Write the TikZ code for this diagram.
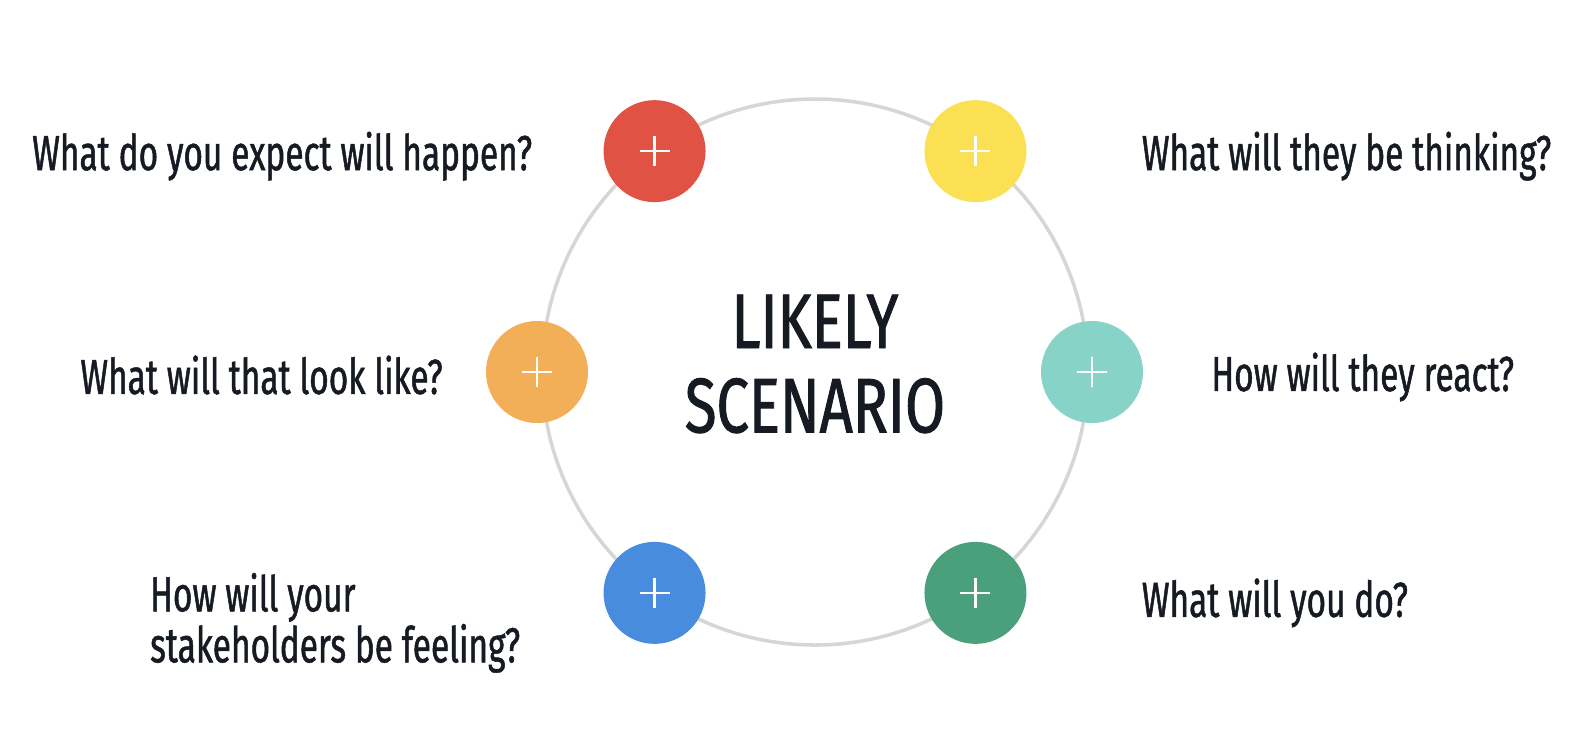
\documentclass[tikz,border=0pt]{standalone}
\usepackage{fontspec}
\usepackage{tikz}
\usepackage{xcolor}
\usetikzlibrary{positioning, calc}
\newfontfamily\condfont[FakeStretch=0.68, FakeBold=1]{Fira Sans}
\newfontfamily\titlefont[FakeStretch=0.75, FakeBold=1.2]{Fira Sans}
\definecolor{ink}{HTML}{161A22}
\definecolor{ringgray}{HTML}{D6D6D6}
\definecolor{dotred}{HTML}{E05244}
\definecolor{dotyellow}{HTML}{FAE052}
\definecolor{dotorange}{HTML}{F2AF58}
\definecolor{dotteal}{HTML}{88D3C8}
\definecolor{dotblue}{HTML}{478CDD}
\definecolor{dotgreen}{HTML}{4AA07A}

\begin{document}
\begin{tikzpicture}[
      dot/.style={circle, minimum size=1.02cm, inner sep=0pt,
                  path picture={\draw[white, line width=0.6pt]
                    ([xshift=-0.15cm]path picture bounding box.center) -- ([xshift=0.15cm]path picture bounding box.center)
                    ([yshift=-0.15cm]path picture bounding box.center) -- ([yshift=0.15cm]path picture bounding box.center);}},
      question/.style={font=\condfont\fontsize{14}{14.5}\selectfont, text=ink,
                       inner sep=0pt, align=left},
      title/.style={font=\titlefont\fontsize{22}{24}\selectfont, text=ink,
                    align=center, inner sep=0pt}
    ]
    \useasboundingbox (0,0) rectangle (15.94,7.32);

    % Ring and title
    \coordinate (hub) at (8.15,3.60);
    \draw[ringgray, line width=1pt] (hub) circle (2.73cm);
    \node[title, yshift=0.08cm] (scenario) at (hub) {LIKELY\\SCENARIO};

    % Coloured dots
    \node[dot, fill=dotred] (red) at ($(hub)+(126:2.73)$) {};
    \node[dot, fill=dotyellow] (yellow) at ($(hub)+(54:2.73)$) {};
    \node[dot, fill=dotorange] (orange) at ($(hub)+(180:2.78)$) {};
    \node[dot, fill=dotteal] (teal) at ($(hub)+(0:2.77)$) {};
    \node[dot, fill=dotblue] (blue) at ($(hub)+(234:2.73)$) {};
    \node[dot, fill=dotgreen] (green) at ($(hub)+(-54:2.73)$) {};

    % Questions
    \node[question, left=0.7cm of red, yshift=-0.05cm] (expect) {What do you expect will happen?};
    \node[question, right=1.14cm of yellow, yshift=-0.05cm] (thinking) {What will they be thinking?};
    \node[question, left=0.42cm of orange, yshift=-0.03cm] (look) {What will that look like?};
    \node[question, right=0.67cm of teal, yshift=-0.05cm] (react) {How will they react?};
    \node[question, left=0.82cm of blue, yshift=-0.3cm] (feeling) {How will your\\stakeholders be feeling?};
    \node[question, right=1.14cm of green, yshift=-0.1cm] (todo) {What will you do?};
  \end{tikzpicture}
\end{document}
